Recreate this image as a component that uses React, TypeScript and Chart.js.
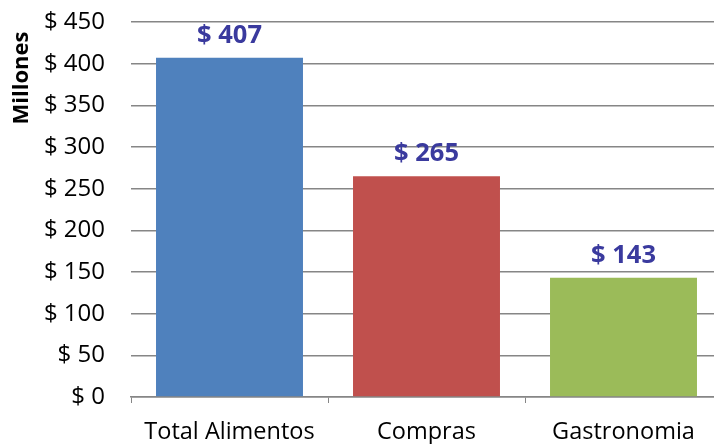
import React, { useEffect, useRef } from "react";
import { Chart, registerables } from "chart.js";

Chart.register(...registerables);

const categories = ["Total Alimentos", "Compras", "Gastronomia"];
const values = [407, 265, 143];
const barColors = ["#4F81BD", "#C0504D", "#9BBB59"];
const yTicks = [0, 50, 100, 150, 200, 250, 300, 350, 400, 450];
const axisTitle = "Millones";

const FONT = "'Open Sans', 'Liberation Sans', sans-serif";

const labelPlugin = {
  id: "barLabels",
  afterDatasetsDraw(chart: any) {
    const ctx = chart.ctx;
    const meta = chart.getDatasetMeta(0);
    ctx.save();
    ctx.font = `bold 25.5px ${FONT}`;
    ctx.fillStyle = "#3A3A9E";
    ctx.textAlign = "center";
    ctx.textBaseline = "alphabetic";
    meta.data.forEach((bar: any, i: number) => {
      ctx.fillText("$ " + values[i], bar.x, bar.y - 15);
    });
    ctx.restore();
  },
};

const axisTitlePlugin = {
  id: "axisTitle",
  afterDraw(chart: any) {
    const ctx = chart.ctx;
    const y = chart.scales.y;
    ctx.save();
    ctx.font = `bold 22px ${FONT}`;
    ctx.fillStyle = "#000";
    ctx.textAlign = "center";
    ctx.textBaseline = "middle";
    ctx.translate(y.left + 13, chart.chartArea.top + 56);
    ctx.rotate(-Math.PI / 2);
    ctx.fillText(axisTitle, 0, 0);
    ctx.restore();
  },
};

export default function App() {
  const ref = useRef<HTMLCanvasElement>(null);
  useEffect(() => {
    if (!ref.current) return;
    const chart = new Chart(ref.current, {
      type: "bar",
      data: {
        labels: categories,
        datasets: [
          {
            data: values,
            backgroundColor: barColors,
            borderWidth: 0,
            categoryPercentage: 1,
            barPercentage: 0.746,
          },
        ],
      },
      options: {
        animation: false,
        responsive: false,
        devicePixelRatio: 1,
        layout: { padding: { left: 9, right: 18, top: 22, bottom: 0 } },
        plugins: { legend: { display: false }, tooltip: { enabled: false } },
        scales: {
          x: {
            grid: {
              offset: true,
              drawOnChartArea: false,
              drawTicks: true,
              tickLength: 6,
              color: "#868686",
            },
            border: { display: true, color: "#868686", width: 1.5 },
            ticks: {
              color: "#000",
              font: { family: FONT, size: 23.5 },
              padding: 15,
              maxRotation: 0,
            },
            afterFit(scale: any) {
              scale.height = 47;
            },
          },
          y: {
            min: 0,
            max: 450,
            afterBuildTicks(scale: any) {
              scale.ticks = yTicks.map((v) => ({ value: v }));
            },
            grid: {
              color: "#868686",
              lineWidth: 1.5,
              drawTicks: true,
              tickLength: 26,
              tickColor: "rgba(0,0,0,0)",
            },
            border: { display: false },
            ticks: {
              color: "#000",
              font: { family: FONT, size: 24 },
              padding: 0,
              callback: (v: any) => "$ " + v,
            },
            afterFit(scale: any) {
              scale.width = 122;
            },
          },
        },
      },
      plugins: [labelPlugin, axisTitlePlugin],
    });
    return () => chart.destroy();
  }, []);
  return (
    <div
      style={{
        position: "fixed",
        left: 0,
        top: 0,
        width: 714,
        height: 444,
        overflow: "hidden",
        background: "#fff",
      }}
    >
      <canvas ref={ref} width={740} height={444} style={{ display: "block" }} />
    </div>
  );
}
